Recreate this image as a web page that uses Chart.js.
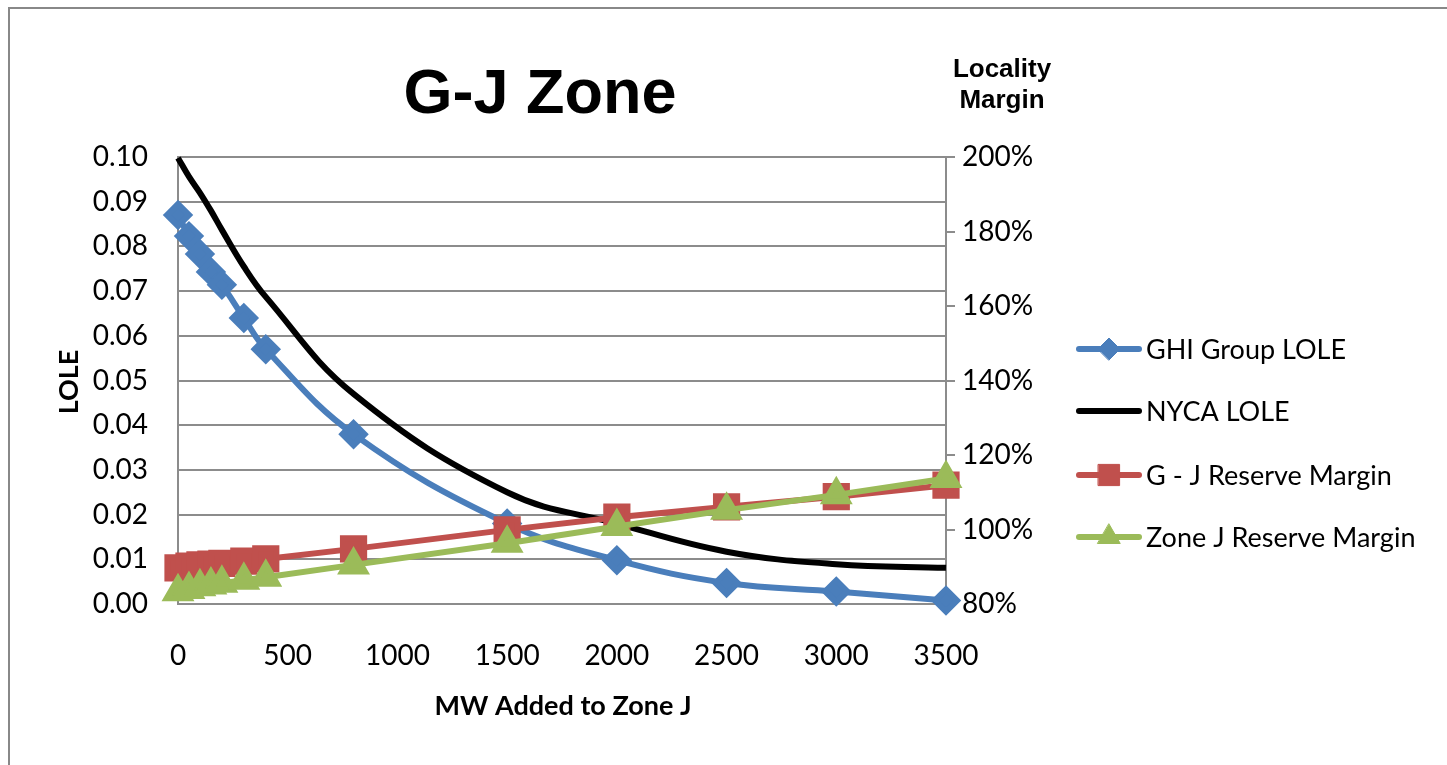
<!DOCTYPE html>
<html>
<head>
<meta charset="utf-8">
<title>G-J Zone</title>
<script src="https://cdn.jsdelivr.net/npm/chart.js@4.4.1/dist/chart.umd.min.js"></script>
<style>
  html, body { margin: 0; padding: 0; background: #fff; }
  #wrap { position: relative; width: 1447px; height: 765px; }
</style>
</head>
<body>
<div id="wrap"><canvas id="gjChart" width="1447" height="765"></canvas></div>
<script>
// values
const mwAdded = [0, 50, 100, 150, 200, 300, 400, 800, 1500, 2000, 2500, 3000, 3500];
const ghiGroupLole = [0.087, 0.0823, 0.0783, 0.0743, 0.0714, 0.064, 0.057, 0.038, 0.018, 0.0098, 0.0047, 0.0028, 0.0008];
const nycaLole = [0.0998, 0.0956, 0.092, 0.088, 0.0837, 0.0755, 0.0687, 0.047, 0.025, 0.018, 0.0117, 0.0089, 0.0081];
const gjReserveMargin = [89.7, 90.2, 90.5, 90.7, 90.9, 91.5, 92.1, 94.8, 99.9, 103.3, 106.1, 108.8, 111.9];
const zoneJReserveMargin = [83.3, 83.9, 84.6, 85.1, 85.6, 86.4, 87.2, 90.5, 96.3, 100.8, 105.2, 109.3, 113.7];

// tick labels
const mwTicks = [0, 500, 1000, 1500, 2000, 2500, 3000, 3500];
const loleTicks = [0, 0.01, 0.02, 0.03, 0.04, 0.05, 0.06, 0.07, 0.08, 0.09, 0.10];
const marginTicks = [80, 100, 120, 140, 160, 180, 200];

const GRID = "#8c8c8c";
const TICK_FONT = { family: "Lato, 'Liberation Sans', sans-serif", size: 28 };

const pairs = ys => mwAdded.map((x, i) => ({ x: x, y: ys[i] }));
const fixTicks = list => scale => { scale.ticks = list.map(v => ({ value: v })); };

// =========================
// frame, titles and legend drawn on top of the chart
// =========================
const decor = {
  id: "decor",
  afterDraw(chart) {
    const ctx = chart.ctx;
    ctx.save();

    // outer frame (only top and left edges are in view)
    ctx.strokeStyle = "#888";
    ctx.lineWidth = 2;
    ctx.beginPath();
    ctx.moveTo(1447, 8);
    ctx.lineTo(9, 8);
    ctx.lineTo(9, 765);
    ctx.stroke();

    ctx.fillStyle = "#000";
    ctx.textBaseline = "middle";

    // chart title
    ctx.textAlign = "center";
    ctx.font = "bold 63px 'Liberation Sans', Arial, sans-serif";
    ctx.fillText("G-J Zone", 540, 96);

    // right axis title
    ctx.font = "bold 26px 'Liberation Sans', Arial, sans-serif";
    ctx.fillText("Locality", 1002, 70);
    ctx.fillText("Margin", 1002, 101);

    // x axis title
    ctx.font = "bold 27px Lato, sans-serif";
    ctx.fillText("MW Added to Zone J", 563, 706);

    // y axis title
    ctx.save();
    ctx.translate(69, 382);
    ctx.rotate(-Math.PI / 2);
    ctx.fillText("LOLE", 0, 0);
    ctx.restore();

    // legend
    const legendY = [349, 411, 475, 537];
    ctx.textAlign = "left";
    ctx.font = "27px Lato, sans-serif";
    chart.data.datasets.forEach((ds, i) => {
      const y = legendY[i];
      ctx.strokeStyle = ds.borderColor;
      ctx.lineWidth = ds.borderWidth;
      ctx.lineCap = "round";
      ctx.beginPath();
      ctx.moveTo(1079, y);
      ctx.lineTo(1139, y);
      ctx.stroke();
      if (ds.pointRadius > 0) {
        ctx.fillStyle = ds.pointBackgroundColor;
        ctx.strokeStyle = ds.pointBorderColor;
        ctx.lineWidth = 1;
        Chart.helpers.drawPoint(ctx, { pointStyle: ds.pointStyle, radius: ds.pointRadius, borderWidth: 1 }, 1109, y);
      }
      ctx.fillStyle = "#000";
      ctx.fillText(ds.label, 1146, y + 1);
    });

    ctx.restore();
  }
};

new Chart(document.getElementById("gjChart"), {
  type: "line",
  data: {
    datasets: [
      {
        label: "GHI Group LOLE",
        data: pairs(ghiGroupLole),
        yAxisID: "yLole",
        borderColor: "#4a7ebb",
        borderWidth: 6,
        pointStyle: "rectRot",
        pointRadius: 11,
        pointBackgroundColor: "#4a7ebb",
        pointBorderColor: "#4a7ebb",
        tension: 0.4,
        order: 4
      },
      {
        label: "NYCA LOLE",
        data: pairs(nycaLole),
        yAxisID: "yLole",
        borderColor: "#000000",
        borderWidth: 6,
        pointRadius: 0,
        tension: 0.4,
        order: 3
      },
      {
        label: "G - J Reserve Margin",
        data: pairs(gjReserveMargin),
        yAxisID: "yMargin",
        borderColor: "#c0504d",
        borderWidth: 6,
        pointStyle: "rect",
        pointRadius: 15,
        pointBackgroundColor: "#c0504d",
        pointBorderColor: "#c0504d",
        tension: 0,
        order: 2
      },
      {
        label: "Zone J Reserve Margin",
        data: pairs(zoneJReserveMargin),
        yAxisID: "yMargin",
        borderColor: "#9bbb59",
        borderWidth: 6,
        pointStyle: "triangle",
        pointRadius: 13,
        pointBackgroundColor: "#9bbb59",
        pointBorderColor: "#9bbb59",
        tension: 0,
        order: 1
      }
    ]
  },
  options: {
    responsive: false,
    devicePixelRatio: 1,
    animation: false,
    clip: false,
    layout: { padding: { top: 157, left: 0, right: 0, bottom: 0 } },
    plugins: {
      legend: { display: false },
      tooltip: { enabled: false }
    },
    scales: {
      x: {
        type: "linear",
        min: 0,
        max: 3500,
        afterBuildTicks: fixTicks(mwTicks),
        afterFit: s => { s.height = 161; },
        grid: { display: false, drawTicks: false },
        border: { display: true, color: GRID, width: 2 },
        ticks: {
          color: "#000",
          font: TICK_FONT,
          padding: 35,
          maxRotation: 0,
          callback: v => String(v)
        }
      },
      yLole: {
        type: "linear",
        position: "left",
        min: 0,
        max: 0.1,
        afterBuildTicks: fixTicks(loleTicks),
        afterFit: s => { s.width = 178; },
        grid: { color: GRID, lineWidth: 2, drawTicks: false },
        border: { display: true, color: GRID, width: 2 },
        ticks: {
          color: "#000",
          font: TICK_FONT,
          padding: 30,
          callback: v => v.toFixed(2)
        }
      },
      yMargin: {
        type: "linear",
        position: "right",
        min: 80,
        max: 200,
        afterBuildTicks: fixTicks(marginTicks),
        afterFit: s => { s.width = 1447 - 946; },
        grid: { drawOnChartArea: false, drawTicks: true, tickLength: 9, color: GRID, lineWidth: 2 },
        border: { display: true, color: GRID, width: 2 },
        ticks: {
          color: "#000",
          font: TICK_FONT,
          padding: 7,
          callback: v => v + "%"
        }
      }
    }
  },
  plugins: [decor]
});
</script>
</body>
</html>
